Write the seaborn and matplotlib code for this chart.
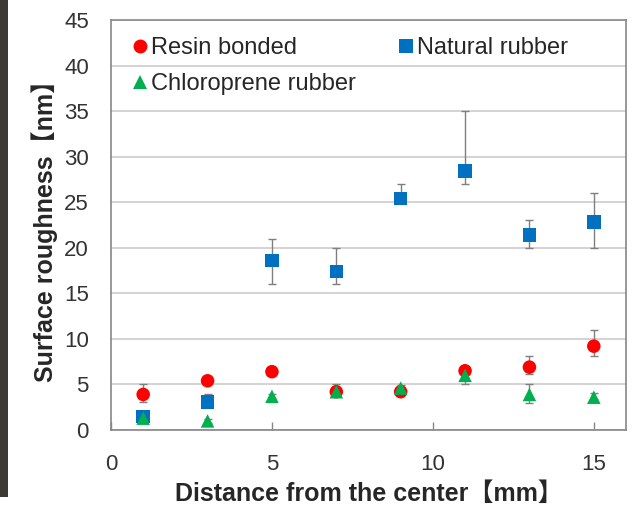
import numpy as np
import pandas as pd
import matplotlib
matplotlib.use("Agg")
import matplotlib.pyplot as plt
import seaborn as sns
from matplotlib.patches import Rectangle
from matplotlib.lines import Line2D

# ---- data ----
distance = [1, 3, 5, 7, 9, 11, 13, 15]

resin = [3.9, 5.4, 6.4, 4.2, 4.2, 6.5, 6.9, 9.2]
resin_lo = [0.8, 0.3, 0.3, 0.3, 0.2, 0.3, 0.8, 1.1]
resin_hi = [1.1, 0.3, 0.3, 0.3, 0.2, 0.3, 1.2, 1.8]

natural = [1.5, 3.1, 18.6, 17.4, 25.4, 28.4, 21.4, 22.8]
natural_lo = [0.3, 0.3, 2.6, 1.4, 0.4, 1.4, 1.4, 2.8]
natural_hi = [0.3, 0.9, 2.4, 2.6, 1.6, 6.6, 1.6, 3.2]

chloro = [1.3, 1.0, 3.7, 4.2, 4.6, 6.0, 3.9, 3.6]
chloro_lo = [0.2, 0.2, 0.3, 0.3, 0.3, 0.9, 0.9, 0.2]
chloro_hi = [0.2, 0.2, 0.3, 0.9, 0.3, 0.3, 1.1, 0.5]

series_names = ["Resin bonded", "Natural rubber", "Chloroprene rubber"]
x_ticks = [0, 5, 10, 15]
y_ticks = [0, 5, 10, 15, 20, 25, 30, 35, 40, 45]

colors = {"Resin bonded": "#FF0000", "Natural rubber": "#0070C0", "Chloroprene rubber": "#00B050"}
markers = {"Resin bonded": "o", "Natural rubber": "s", "Chloroprene rubber": "^"}

frames = []
for name, vals, lo, hi in [("Resin bonded", resin, resin_lo, resin_hi),
                           ("Natural rubber", natural, natural_lo, natural_hi),
                           ("Chloroprene rubber", chloro, chloro_lo, chloro_hi)]:
    frames.append(pd.DataFrame({"x": distance, "y": vals, "lo": lo, "hi": hi, "series": name}))
df = pd.concat(frames, ignore_index=True)

sns.set_theme(style="white")
plt.rcParams["font.family"] = ["Liberation Sans", "Noto Sans CJK JP"]

fig = plt.figure(figsize=(6.4, 5.08), dpi=100)
ax = fig.add_axes([111 / 640, 1 - 430 / 508, (626 - 111) / 640, (430 - 20) / 508])

# dark strip at the left edge
fig.patches.append(Rectangle((0, 11 / 508), 8 / 640, 1 - 11 / 508, transform=fig.transFigure,
                             facecolor="#3d3935", edgecolor="none", zorder=0))

# error bars
for name in series_names:
    sub = df[df.series == name]
    ax.errorbar(sub.x, sub.y, yerr=[sub.lo, sub.hi], fmt="none", ecolor="#7f7f7f",
                elinewidth=1.0, capsize=3, capthick=1.0, zorder=2)

sns.scatterplot(data=df, x="x", y="y", hue="series", style="series",
                hue_order=series_names, style_order=series_names,
                palette=colors, markers=markers, s=95, edgecolor="none",
                ax=ax, zorder=3, legend=False)

ax.set_xlim(0, 16)
ax.set_ylim(0, 45)
ax.set_xticks(x_ticks)
ax.set_yticks(y_ticks)
ax.yaxis.grid(True, color="#d0d0d0", linewidth=1.3)
ax.set_axisbelow(True)
for sp in ax.spines.values():
    sp.set_color("#868686")
    sp.set_linewidth(1.2)
    sp.set_visible(True)

ax.tick_params(axis="x", direction="in", length=6, width=1, color="#868686",
               labelsize=16, pad=17, labelcolor="#333333")
ax.tick_params(axis="y", length=0, labelsize=16, pad=16, labelcolor="#333333")
ax.xaxis.set_ticks_position("bottom")
ax.yaxis.set_ticks_position("left")

ax.set_xlabel("Distance from the center【mm】", fontsize=18, fontweight="bold", labelpad=5)
ax.set_ylabel("Surface roughness【nm】", fontsize=18, fontweight="bold", labelpad=4)

order = ["Resin bonded", "Chloroprene rubber", "Natural rubber"]
handles = [Line2D([], [], linestyle="none", marker=markers[n], color=colors[n],
                  markersize=10, markeredgewidth=0) for n in order]
ax.legend(handles, order, ncol=2, frameon=False, fontsize=17, loc="upper left",
          bbox_to_anchor=(133 / 640, 1 - 37 / 508), bbox_transform=fig.transFigure,
          borderpad=0, borderaxespad=0, handlelength=0.6, handletextpad=0.15,
          columnspacing=1.85, labelspacing=0.6)

fig.savefig("out.png", dpi=100)
